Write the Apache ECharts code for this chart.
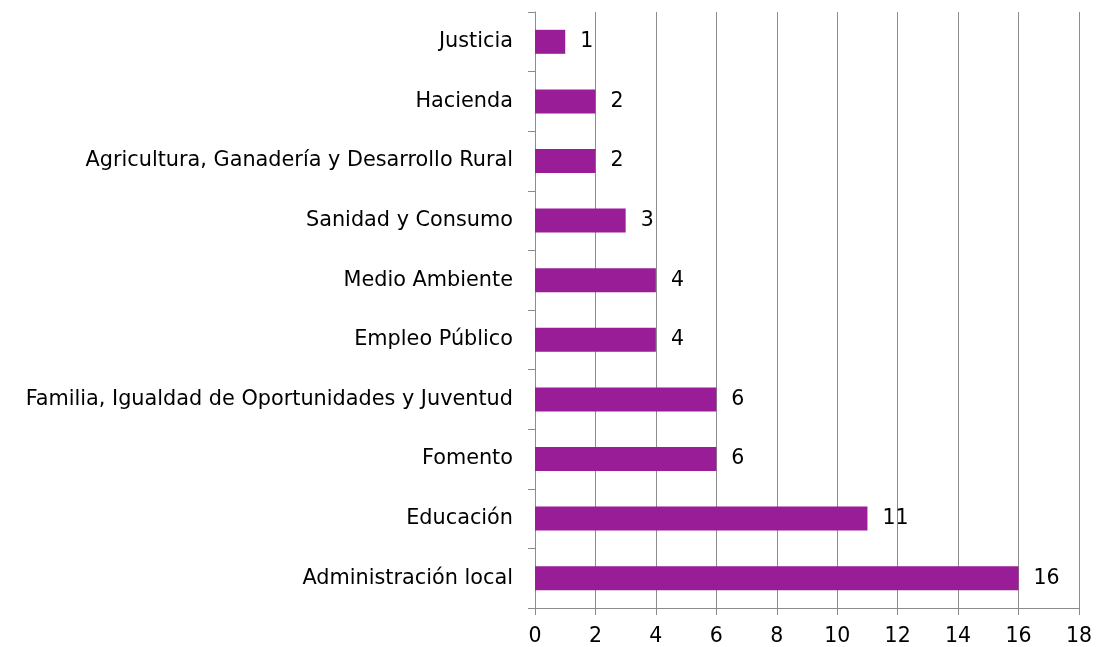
<!DOCTYPE html>
<html><head><meta charset="utf-8">
<script src="https://cdn.jsdelivr.net/npm/echarts@6/dist/echarts.min.js"></script>
<style>html,body{margin:0;padding:0;background:#fff}#c{width:1096px;height:647px}</style>
</head><body><div id="c"></div>
<script>
const categories = ["Administración local","Educación","Fomento","Familia, Igualdad de Oportunidades y Juventud","Empleo Público","Medio Ambiente","Sanidad y Consumo","Agricultura, Ganadería y Desarrollo Rural","Hacienda","Justicia"];
const values = [16,11,6,6,4,4,3,2,2,1];
const xTicks = {min:0,max:18,interval:2};
const font = "DejaVu Sans";
const chart = echarts.init(document.getElementById('c'));
chart.setOption({
  animation:false,
  grid:{left:535,right:17,top:12,bottom:38,containLabel:false},
  xAxis:{type:'value',min:xTicks.min,max:xTicks.max,interval:xTicks.interval,
    axisLine:{show:true,lineStyle:{color:'#8c8c8c'}},
    axisTick:{show:true,length:7,lineStyle:{color:'#8c8c8c'}},
    splitLine:{show:true,lineStyle:{color:'#8c8c8c'}},
    axisLabel:{color:'#000',fontFamily:font,fontSize:20.5,margin:18}},
  yAxis:{type:'category',data:categories,
    axisLine:{show:true,lineStyle:{color:'#8c8c8c'}},
    axisTick:{show:true,length:7,lineStyle:{color:'#8c8c8c'}},
    axisLabel:{color:'#000',fontFamily:font,fontSize:20.8,margin:22}},
  series:[{type:'bar',data:values,barWidth:24,
    itemStyle:{color:'#991D96'},
    label:{show:true,position:'right',distance:15,color:'#000',fontFamily:font,fontSize:20.5}}]
});
</script></body></html>
